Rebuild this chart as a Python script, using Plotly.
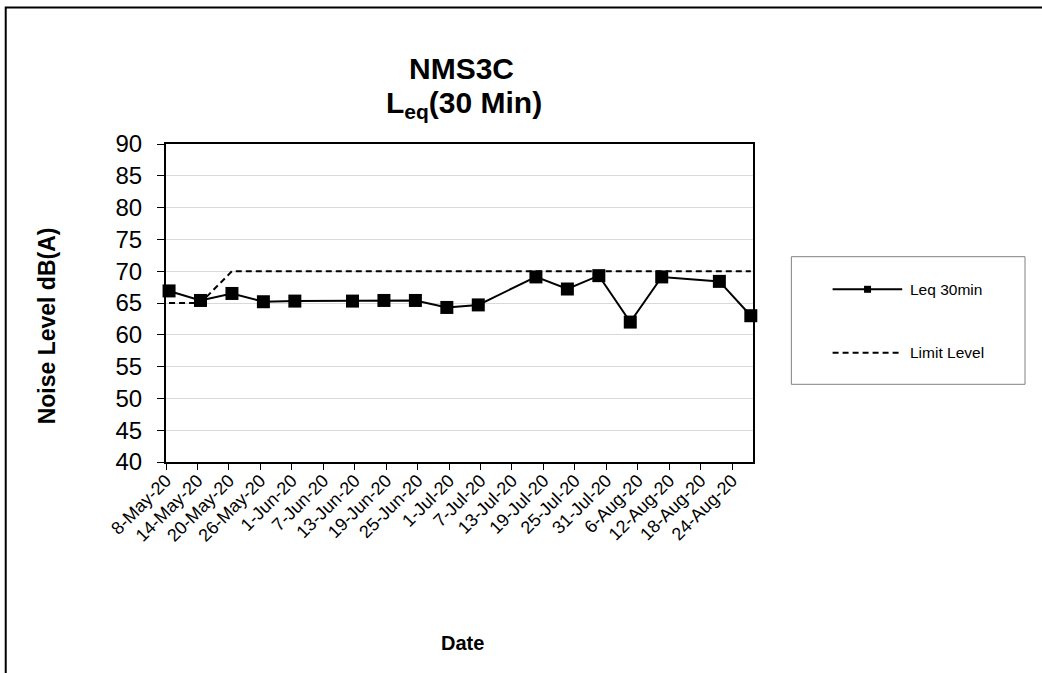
import plotly.graph_objects as go

# ---- data ----
dates = ["2020-05-08 14:00", "2020-05-14 14:00", "2020-05-20 14:00", "2020-05-26 14:00",
         "2020-06-01 14:00", "2020-06-12 14:00", "2020-06-18 14:00", "2020-06-24 14:00",
         "2020-06-30 14:00", "2020-07-06 14:00", "2020-07-17 14:00", "2020-07-23 14:00",
         "2020-07-29 14:00", "2020-08-04 14:00", "2020-08-10 14:00", "2020-08-21 14:00",
         "2020-08-27 14:00"]
leq_30min = [66.9, 65.4, 66.5, 65.2, 65.3, 65.3, 65.4, 65.4, 64.3, 64.7,
             69.1, 67.2, 69.3, 62.0, 69.1, 68.4, 63.0]
limit_level = [65, 65, 70, 70, 70, 70, 70, 70, 70, 70, 70, 70, 70, 70, 70, 70, 70]

series_names = ["Leq 30min", "Limit Level"]
title_line1 = "NMS3C"
title_line2 = "L<sub>eq</sub>(30 Min)"
y_title = "Noise Level dB(A)"
x_title = "Date"

# ---- layout geometry (page pixels) ----
W, H = 1042, 673
PL, PR, PT, PB = 165.5, 753.3, 144, 462     # plot area in page pixels
L, T = PL, PT
R = W - PR
B = H - PB
PW, PH = PR - PL, PB - PT


def px(x):
    return (x - PL) / PW


def py(y):
    return (PB - y) / PH


FONT = "Arial, Liberation Sans, sans-serif"

fig = go.Figure()
fig.add_trace(go.Scatter(
    x=dates, y=limit_level, name=series_names[1], mode="lines",
    line=dict(color="black", width=2, dash="6px,4px"), showlegend=False, cliponaxis=False))
fig.add_trace(go.Scatter(
    x=dates, y=leq_30min, name=series_names[0], mode="lines+markers",
    line=dict(color="black", width=2),
    marker=dict(symbol="square", size=13, color="black"), showlegend=False, cliponaxis=False))

shapes = []
annotations = []

# outer chart border
shapes.append(dict(type="rect", xref="paper", yref="paper",
                   x0=px(5), x1=px(1060), y0=py(700), y1=py(7.5),
                   line=dict(color="black", width=2), layer="below"))

# legend box (manual)
shapes.append(dict(type="rect", xref="paper", yref="paper",
                   x0=px(791.7), x1=px(1025.7), y0=py(384.3), y1=py(256.7),
                   line=dict(color="#808080", width=1)))
shapes.append(dict(type="line", xref="paper", yref="paper",
                   x0=px(833), x1=px(902.7), y0=py(289.3), y1=py(289.3),
                   line=dict(color="black", width=2)))
shapes.append(dict(type="rect", xref="paper", yref="paper",
                   x0=px(864.5), x1=px(871.5), y0=py(292.8), y1=py(285.8),
                   line=dict(color="black", width=0), fillcolor="black"))
shapes.append(dict(type="line", xref="paper", yref="paper",
                   x0=px(833), x1=px(902.7), y0=py(352.7), y1=py(352.7),
                   line=dict(color="black", width=2, dash="6px,4px")))
annotations.append(dict(xref="paper", yref="paper", x=px(909), y=py(289.3),
                        text=series_names[0], showarrow=False, xanchor="left", yanchor="middle",
                        font=dict(family=FONT, size=15.5, color="black")))
annotations.append(dict(xref="paper", yref="paper", x=px(909), y=py(352.7),
                        text=series_names[1], showarrow=False, xanchor="left", yanchor="middle",
                        font=dict(family=FONT, size=15.5, color="black")))

# titles
annotations.append(dict(xref="paper", yref="paper", x=px(461.5), y=py(68),
                        text="<b>%s</b>" % title_line1, showarrow=False,
                        xanchor="center", yanchor="middle",
                        font=dict(family=FONT, size=30, color="black")))
annotations.append(dict(xref="paper", yref="paper", x=px(463.5), y=py(104),
                        text="<b>%s</b>" % title_line2, showarrow=False,
                        xanchor="center", yanchor="middle",
                        font=dict(family=FONT, size=30, color="black")))
annotations.append(dict(xref="paper", yref="paper", x=px(46.7), y=py(326),
                        text="<b>%s</b>" % y_title, showarrow=False, textangle=-90,
                        xanchor="center", yanchor="middle",
                        font=dict(family=FONT, size=23, color="black")))
annotations.append(dict(xref="paper", yref="paper", x=px(462), y=py(643),
                        text="<b>%s</b>" % x_title, showarrow=False,
                        xanchor="center", yanchor="middle",
                        font=dict(family=FONT, size=20, color="black")))

fig.update_layout(
    width=W, height=H, autosize=False,
    margin=dict(l=L, r=R, t=T, b=B, pad=0),
    paper_bgcolor="white", plot_bgcolor="white",
    font=dict(family=FONT, color="black"),
    shapes=shapes, annotations=annotations,
    showlegend=False,
)
fig.update_xaxes(
    type="date", range=["2020-05-08", "2020-08-28"],
    tick0="2020-05-08", dtick=6 * 86400000, tickformat="%-d-%b-%y",
    tickangle=-45, tickfont=dict(family=FONT, size=18, color="black"),
    ticks="outside", ticklen=6, tickwidth=1.2, tickcolor="black",
    ticklabelstandoff=-7,
    showline=True, linecolor="black", linewidth=2, mirror=True,
    showgrid=False, zeroline=False,
)
fig.update_yaxes(
    range=[40, 90], dtick=5, tick0=40,
    tickfont=dict(family=FONT, size=24, color="black"),
    ticks="outside", ticklen=7, tickwidth=1.2, tickcolor="black",
    ticklabelstandoff=10,
    showline=True, linecolor="black", linewidth=2, mirror=True,
    showgrid=True, gridcolor="#d9d9d9", gridwidth=1, zeroline=False,
)

fig.write_html("out.html", config={"displayModeBar": False},
               post_script="document.body.style.margin='0';document.body.style.overflow='hidden';")
